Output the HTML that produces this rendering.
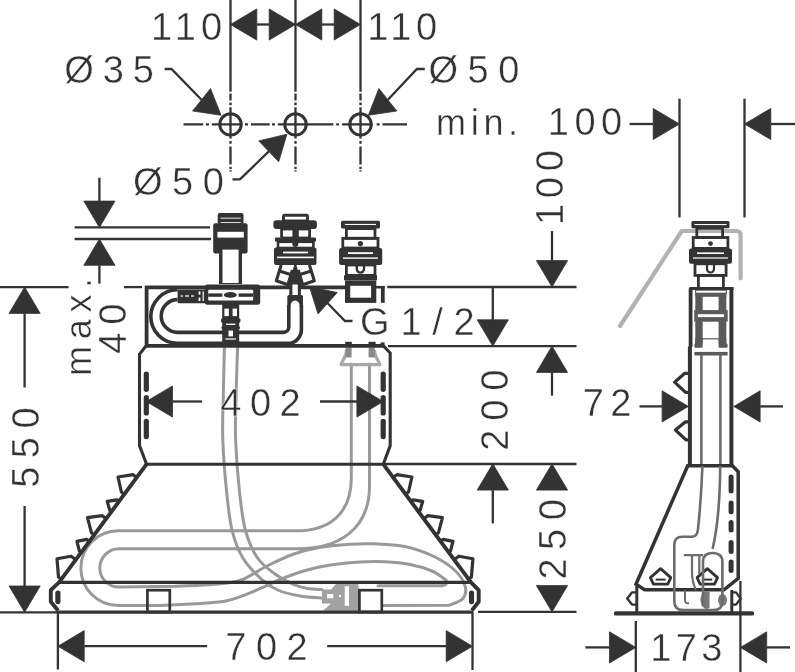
<!DOCTYPE html>
<html><head><meta charset="utf-8"><title>Drawing</title>
<style>
html,body{margin:0;padding:0;background:#fff;}
svg{display:block;will-change:transform;}
text{font-family:"Liberation Sans",sans-serif;fill:#333;stroke:#fff;stroke-width:0.4px;}
</style></head><body>
<svg width="795" height="672" viewBox="0 0 795 672">
<rect width="795" height="672" fill="#fff"/>
<g id="hoses" fill="none" stroke="#999999" stroke-width="3.0" stroke-linecap="round" stroke-linejoin="round">
<path d="M224.4,347.0 C224.2,355.8 223.5,384.5 223.2,400.0 C222.9,415.5 222.2,424.4 222.8,440.0 C223.4,455.6 225.2,478.4 226.8,493.6 C228.4,508.8 229.5,520.3 232.2,531.0 C234.9,541.7 238.0,549.9 242.9,558.0 C247.8,566.1 255.8,574.1 261.6,579.4 C267.4,584.7 271.3,587.2 277.7,590.0 C284.1,592.8 292.6,594.7 300.0,596.0 C307.4,597.3 318.3,597.7 322.0,598.0"/>
<path d="M237.6,347.0 C237.3,355.8 236.3,384.5 236.0,400.0 C235.7,415.5 235.0,424.4 235.6,440.0 C236.2,455.6 238.0,478.4 239.7,493.6 C241.4,508.8 242.6,520.3 245.6,531.0 C248.6,541.7 252.7,550.8 257.6,558.0 C262.5,565.2 269.0,569.5 275.0,574.0 C281.0,578.5 288.3,582.3 293.8,584.7 C299.3,587.1 303.3,587.6 308.0,588.4 C312.7,589.2 319.7,589.4 322.0,589.6"/>
<path d="M351.3,364 L351.3,478 C351.3,515 328,530.8 296,530.8 L118.2,530.8 A37.35,37.35 0 0 0 118.2,605.5 L160,605.5 C166.7,605.2 188.9,604.3 200.0,603.5 C211.1,602.7 217.9,602.8 226.8,600.8 C235.7,598.8 244.7,595.0 253.6,591.4 C262.5,587.8 271.5,583.0 280.4,579.4 C289.3,575.8 298.3,572.5 307.2,570.0 C316.1,567.5 325.2,565.9 334.0,564.6 C342.8,563.3 351.5,562.5 360.0,562.0 C368.5,561.5 376.7,561.4 385.0,561.8 C393.3,562.2 402.2,563.0 410.0,564.5 C417.8,566.0 426.1,568.5 432.0,571.0 C437.9,573.5 443.2,578.2 445.5,579.6 C448.5,583 446,585.8 440,585.8 L378,585.8"/>
<path d="M369.5,364 L369.5,486 C369.5,530 338,548.7 298,548.7 L119,548.7 A19.2,19.2 0 0 0 119,587.1 L175,586.3 C179.2,586.1 191.7,585.8 200.0,585.3 C208.3,584.8 217.8,584.2 225.0,583.2 C232.2,582.2 236.0,582.4 243.0,579.5 C250.0,576.6 258.5,570.2 267.0,566.0 C275.5,561.8 284.9,557.1 293.8,554.0 C302.7,550.9 311.2,548.8 320.6,547.2 C330.0,545.6 341.3,544.8 350.0,544.2 C358.7,543.6 363.8,543.4 373.0,543.8 C382.2,544.2 394.7,544.3 405.0,546.5 C415.3,548.7 426.5,552.8 435.0,557.0 C443.5,561.2 450.9,566.5 456.0,571.5 C461.1,576.5 464.2,582.4 465.3,587.0 C466.4,591.6 465.2,596.0 462.5,599.0 C459.8,602.0 451.2,604.2 449.0,605.3 L383,605.5"/>
</g>
<path d="M346.6,350 C346.6,357 342.4,360 341,364.6 L379.8,364.6 C378.6,360 374.4,357 374.4,350" fill="none" stroke="#a8a8a8" stroke-width="3.2" stroke-linejoin="round"/>
<rect x="345.6" y="347.5" width="6.0" height="9.9" rx="0.0" fill="#8a8a8a"/>
<rect x="368.6" y="347.5" width="6.2" height="9.9" rx="0.0" fill="#8a8a8a"/>
<polygon points="322,589.5 331,589.5 336,584 358.5,584 358.5,610.8 323,610.8 331,603.5 322,603.5" fill="#a2a2a2"/>
<rect x="327.0" y="594.0" width="6.3" height="4.3" rx="0.0" fill="#fff"/>
<rect x="344.7" y="586.3" width="4.3" height="19.5" rx="0.0" fill="#fff"/>
<circle cx="340" cy="596" r="1.2" fill="#fff"/>
<path d="M146.6,345 L146.6,287.4 L345,287.4" fill="none" stroke="#333333" stroke-width="3.80" />
<path d="M387.2,287.0 L576.5,287.0" fill="none" stroke="#333333" stroke-width="2.30" />
<line x1="145.0" y1="345.9" x2="383.6" y2="345.9" stroke="#333333" stroke-width="3.80" />
<rect x="345.2" y="341.8" width="6.6" height="4.2" rx="0.0" fill="#333333"/>
<rect x="368.5" y="341.8" width="7.1" height="4.2" rx="0.0" fill="#333333"/>
<rect x="380.6" y="342.4" width="4.0" height="3.6" rx="0.0" fill="#333333"/>
<line x1="388.0" y1="346.1" x2="576.5" y2="346.1" stroke="#333333" stroke-width="2.30" />
<path d="M146,345.9 L139.5,354.3 L139.5,445.6 L146.6,464.2 L383.3,464.2 L390.2,445.6 L390.2,353 L383.4,345.9" fill="none" stroke="#333333" stroke-width="3.10" stroke-linejoin="miter"/>
<line x1="384.0" y1="464.0" x2="576.5" y2="464.0" stroke="#333333" stroke-width="2.30" />
<path d="M146.6,464.2 L59,582.4 L50.8,590.2 L50.8,601.7 L58,610.5 M383.3,464.2 L471,582.4 L478.7,590.2 L478.7,601.7 L471.8,610.5" fill="none" stroke="#333333" stroke-width="3.90" stroke-linejoin="round"/>
<line x1="58.0" y1="582.4" x2="472.0" y2="582.4" stroke="#333333" stroke-width="3.20" />
<line x1="57.0" y1="612.2" x2="473.0" y2="612.2" stroke="#333333" stroke-width="3.30" />
<line x1="0.0" y1="612.3" x2="58.0" y2="612.3" stroke="#333333" stroke-width="2.30" />
<line x1="478.0" y1="611.9" x2="576.5" y2="611.9" stroke="#333333" stroke-width="2.30" />
<rect x="147.4" y="590.2" width="22.4" height="21.8" rx="0.0" fill="none" stroke="#333333" stroke-width="2.70"/>
<rect x="359.4" y="590.2" width="22.4" height="21.8" rx="0.0" fill="none" stroke="#333333" stroke-width="2.70"/>
<line x1="57.9" y1="593.0" x2="57.9" y2="601.6" stroke="#333333" stroke-width="5.20" stroke-linecap="round"/>
<line x1="471.5" y1="593.0" x2="471.5" y2="601.6" stroke="#333333" stroke-width="5.20" stroke-linecap="round"/>
<line x1="146.3" y1="374.0" x2="146.3" y2="389.3" stroke="#333333" stroke-width="5.20" stroke-linecap="round"/>
<line x1="146.3" y1="397.7" x2="146.3" y2="412.9" stroke="#333333" stroke-width="5.20" stroke-linecap="round"/>
<line x1="146.3" y1="421.3" x2="146.3" y2="436.6" stroke="#333333" stroke-width="5.20" stroke-linecap="round"/>
<line x1="383.2" y1="374.0" x2="383.2" y2="389.3" stroke="#333333" stroke-width="5.20" stroke-linecap="round"/>
<line x1="383.2" y1="397.7" x2="383.2" y2="412.9" stroke="#333333" stroke-width="5.20" stroke-linecap="round"/>
<line x1="383.2" y1="421.3" x2="383.2" y2="436.6" stroke="#333333" stroke-width="5.20" stroke-linecap="round"/>
<path d="M136.8,477.5 L133.0,474.7 L118.0,477.0 L121.4,492.0 L124.4,494.2" fill="none" stroke="#333333" stroke-width="3.20" stroke-linejoin="round"/>
<path d="M393.1,477.5 L396.9,474.7 L411.9,477.0 L408.5,492.0 L405.5,494.2" fill="none" stroke="#333333" stroke-width="3.20" stroke-linejoin="round"/>
<path d="M119.0,501.4 L116.9,499.8 L107.2,501.3 L109.8,510.4 L111.5,511.6" fill="none" stroke="#333333" stroke-width="3.20" stroke-linejoin="round"/>
<path d="M410.9,501.4 L413.0,499.8 L422.7,501.3 L420.1,510.4 L418.4,511.6" fill="none" stroke="#333333" stroke-width="3.20" stroke-linejoin="round"/>
<path d="M106.2,518.7 L102.0,515.6 L87.5,517.6 L91.4,532.7 L94.3,534.8" fill="none" stroke="#333333" stroke-width="3.20" stroke-linejoin="round"/>
<path d="M423.7,518.7 L427.9,515.6 L442.4,517.6 L438.5,532.7 L435.6,534.8" fill="none" stroke="#333333" stroke-width="3.20" stroke-linejoin="round"/>
<path d="M89.4,541.4 L86.6,539.4 L76.9,541.4 L79.4,551.0 L81.3,552.4" fill="none" stroke="#333333" stroke-width="3.20" stroke-linejoin="round"/>
<path d="M440.5,541.4 L443.3,539.4 L453.0,541.4 L450.5,551.0 L448.6,552.4" fill="none" stroke="#333333" stroke-width="3.20" stroke-linejoin="round"/>
<path d="M75.8,559.7 L71.1,556.2 L57.0,558.8 L58.5,577.0 L61.4,579.2" fill="none" stroke="#333333" stroke-width="3.20" stroke-linejoin="round"/>
<path d="M454.1,559.7 L458.8,556.2 L472.9,558.8 L471.4,577.0 L468.5,579.2" fill="none" stroke="#333333" stroke-width="3.20" stroke-linejoin="round"/>
<path d="M177.6,289.8 A26.8,26.8 0 0 0 177.6,343.4 L288,343.4 A13.4,14 0 0 0 301.4,329 L301.4,305" fill="none" stroke="#333333" stroke-width="3.60" />
<path d="M177.6,299.6 A16.4,16.4 0 0 0 177.6,332.4 L283.5,332.4 A5.3,5.3 0 0 0 288.8,327.1 L288.8,305" fill="none" stroke="#333333" stroke-width="3.60" />
<rect x="217.7" y="213.1" width="25.8" height="10.9" rx="1.8" fill="#333333"/>
<rect x="220.5" y="217.7" width="20.3" height="0.9" rx="0.0" fill="#fff"/>
<rect x="220.5" y="222.2" width="20.3" height="0.9" rx="0.0" fill="#fff"/>
<rect x="213.2" y="223.2" width="34.4" height="30.3" rx="2.0" fill="#333333"/>
<rect x="217.4" y="231.8" width="26.4" height="5.8" rx="0.0" fill="#fff"/>
<rect x="219.0" y="250.0" width="23.0" height="34.0" rx="0.0" fill="#333333"/>
<rect x="222.5" y="249.6" width="16.1" height="33.4" rx="0.0" fill="#fff"/>
<rect x="204.8" y="284.4" width="55.4" height="20.4" rx="2.5" fill="#333333"/>
<rect x="208.2" y="289.8" width="45.0" height="10.6" rx="1.0" fill="#fff"/>
<rect x="208.2" y="293.4" width="14.2" height="3.4" rx="0.0" fill="#333333"/>
<rect x="238.6" y="293.4" width="14.6" height="3.4" rx="0.0" fill="#333333"/>
<ellipse cx="230.3" cy="294.9" rx="6.6" ry="2.8" fill="#333333"/>
<rect x="177.6" y="289.4" width="27.9" height="13.8" rx="1.0" fill="#333333"/>
<rect x="180.5" y="295.4" width="2.5" height="1.2" rx="0.0" fill="#fff"/>
<rect x="185.0" y="295.4" width="4.0" height="1.2" rx="0.0" fill="#fff"/>
<rect x="191.0" y="295.4" width="3.0" height="1.2" rx="0.0" fill="#fff"/>
<rect x="198.6" y="291.4" width="1.8" height="3.2" rx="0.0" fill="#fff"/>
<rect x="198.6" y="297.6" width="1.8" height="3.4" rx="0.0" fill="#fff"/>
<rect x="202.6" y="291.4" width="1.2" height="9.6" rx="0.0" fill="#fff"/>
<rect x="222.2" y="304.0" width="17.0" height="39.0" rx="0.0" fill="#333333"/>
<rect x="221.0" y="318.6" width="19.4" height="3.8" rx="1.0" fill="#333333"/>
<rect x="221.4" y="326.5" width="18.6" height="2.5" rx="1.0" fill="#333333"/>
<rect x="224.4" y="308.6" width="4.4" height="7.5" rx="0.0" fill="#fff"/>
<rect x="232.6" y="308.6" width="4.4" height="7.5" rx="0.0" fill="#fff"/>
<rect x="226.0" y="323.6" width="9.4" height="1.4" rx="0.0" fill="#fff"/>
<rect x="228.5" y="330.6" width="4.5" height="5.8" rx="0.0" fill="#fff"/>
<rect x="225.4" y="338.4" width="10.6" height="1.2" rx="0.0" fill="#fff"/>
<rect x="283.5" y="215.2" width="24.0" height="5.8" rx="1.0" fill="none" stroke="#333333" stroke-width="2.90"/>
<rect x="273.4" y="220.2" width="43.5" height="8.8" rx="3.0" fill="#333333"/>
<rect x="281.6" y="229.0" width="28.0" height="9.0" rx="0.0" fill="none" stroke="#333333" stroke-width="2.80"/>
<rect x="292.4" y="229.0" width="6.4" height="9.0" rx="0.0" fill="#333333"/>
<rect x="275.0" y="237.6" width="41.0" height="4.2" rx="1.0" fill="#333333"/>
<rect x="278.0" y="241.8" width="35.4" height="6.2" rx="0.0" fill="none" stroke="#333333" stroke-width="2.60"/>
<circle cx="295.3" cy="244" r="3" fill="#333333"/>
<rect x="274.0" y="247.6" width="42.5" height="17.4" rx="2.0" fill="#333333"/>
<rect x="283.0" y="251.6" width="25.0" height="1.8" rx="0.0" fill="#fff"/>
<rect x="277.0" y="256.6" width="37.0" height="1.6" rx="0.0" fill="#fff"/>
<path d="M281.2,265 L276.3,280.7 L287.9,284.7 L292.4,270 M279.4,270.9 L290.6,274.5" fill="none" stroke="#333333" stroke-width="3.10" stroke-linejoin="round"/>
<path d="M309.4,265 L314.3,280.7 L302.7,284.7 L298.2,270 M311.2,270.9 L300,274.5" fill="none" stroke="#333333" stroke-width="3.10" stroke-linejoin="round"/>
<polygon points="295.3,261 288.6,285.5 302,285.5" fill="#333333"/>
<rect x="289.3" y="283.0" width="11.6" height="13.0" rx="0.0" fill="#333333"/>
<rect x="292.4" y="284.5" width="5.4" height="10.7" rx="0.0" fill="#fff"/>
<path d="M287.3,296.5 Q287.3,295 289,295 L301.3,295 Q303,295 303,296.5 L303,307 L299.9,307 Q299.5,300.5 295.1,300.5 Q290.7,300.5 290.3,307 L287.3,307 Z" fill="#333333"/>
<rect x="341.0" y="220.7" width="39.0" height="7.9" rx="1.5" fill="#333333"/>
<rect x="345.0" y="223.9" width="31.0" height="1.1" rx="0.0" fill="#fff"/>
<rect x="346.4" y="228.6" width="28.6" height="9.7" rx="0.0" fill="none" stroke="#333333" stroke-width="2.80"/>
<rect x="342.8" y="238.3" width="35.2" height="9.7" rx="0.0" fill="none" stroke="#333333" stroke-width="2.80"/>
<circle cx="360.4" cy="243.6" r="2.6" fill="#333333"/>
<rect x="339.1" y="248.0" width="43.1" height="17.0" rx="2.0" fill="#333333"/>
<rect x="348.0" y="252.2" width="25.0" height="1.8" rx="0.0" fill="#fff"/>
<rect x="343.0" y="257.4" width="35.0" height="1.4" rx="0.0" fill="#fff"/>
<rect x="346.4" y="265.0" width="28.6" height="10.4" rx="0.0" fill="none" stroke="#333333" stroke-width="2.80"/>
<path d="M356.8,262 L356.8,269 A3.6,3.6 0 0 0 364,269 L364,262" fill="none" stroke="#333333" stroke-width="2.40" />
<rect x="344.0" y="275.0" width="33.0" height="5.4" rx="1.0" fill="#333333"/>
<rect x="347.6" y="283.2" width="26.1" height="17.1" rx="0.0" fill="none" stroke="#333333" stroke-width="5.20"/>
<line x1="375.0" y1="287.2" x2="384.7" y2="287.2" stroke="#333333" stroke-width="2.60" />
<line x1="382.8" y1="286.0" x2="382.8" y2="302.8" stroke="#333333" stroke-width="3.80" />
<path d="M230.5,0.0 L230.5,91.8 M230.5,93.6 L230.5,100.6 M230.5,102.6 L230.5,105.2 M230.5,107.2 L230.5,138.6 M230.5,141.0 L230.5,143.8 M230.5,146.4 L230.5,164.6 M230.5,166.8 L230.5,169.0 M230.5,170.2 L230.5,171.4" fill="none" stroke="#333333" stroke-width="2.30" />
<circle cx="230.5" cy="124.4" r="10.7" fill="none" stroke="#333333" stroke-width="3.0"/>
<path d="M295.5,0.0 L295.5,91.8 M295.5,93.6 L295.5,100.6 M295.5,102.6 L295.5,105.2 M295.5,107.2 L295.5,138.6 M295.5,141.0 L295.5,143.8 M295.5,146.4 L295.5,164.6 M295.5,166.8 L295.5,169.0 M295.5,170.2 L295.5,171.4" fill="none" stroke="#333333" stroke-width="2.30" />
<circle cx="295.5" cy="124.4" r="10.7" fill="none" stroke="#333333" stroke-width="3.0"/>
<path d="M360.5,0.0 L360.5,91.8 M360.5,93.6 L360.5,100.6 M360.5,102.6 L360.5,105.2 M360.5,107.2 L360.5,138.6 M360.5,141.0 L360.5,143.8 M360.5,146.4 L360.5,164.6 M360.5,166.8 L360.5,169.0 M360.5,170.2 L360.5,171.4" fill="none" stroke="#333333" stroke-width="2.30" />
<circle cx="360.5" cy="124.4" r="10.7" fill="none" stroke="#333333" stroke-width="3.0"/>
<path d="M183.5,124.4 L203.2,124.4 M206.0,124.4 L209.0,124.4 M211.8,124.4 L242.2,124.4 M245.0,124.4 L248.0,124.4 M250.9,124.4 L269.7,124.4 M272.0,124.4 L274.9,124.4 M277.8,124.4 L333.3,124.4 M336.2,124.4 L339.0,124.4 M342.0,124.4 L372.4,124.4 M376.7,124.4 L379.6,124.4 M382.5,124.4 L407.0,124.4" fill="none" stroke="#333333" stroke-width="2.30" />
<polygon points="230.5,24.5 256.8,8.9 256.8,40.1" fill="#333333" stroke="#333333" stroke-width="0.8" stroke-linejoin="round"/>
<polygon points="295.5,24.5 269.2,40.1 269.2,8.9" fill="#333333" stroke="#333333" stroke-width="0.8" stroke-linejoin="round"/>
<line x1="256.8" y1="24.5" x2="269.2" y2="24.5" stroke="#333333" stroke-width="2.30" />
<polygon points="295.5,24.5 321.8,8.9 321.8,40.1" fill="#333333" stroke="#333333" stroke-width="0.8" stroke-linejoin="round"/>
<polygon points="360.5,24.5 334.2,40.1 334.2,8.9" fill="#333333" stroke="#333333" stroke-width="0.8" stroke-linejoin="round"/>
<line x1="321.8" y1="24.5" x2="334.2" y2="24.5" stroke="#333333" stroke-width="2.30" />
<polygon points="221.1,115.3 192.6,111.0 210.5,88.5" fill="#333333" stroke="#333333" stroke-width="0.8" stroke-linejoin="round"/>
<path d="M164.6,69 L171.5,69 L201.5,99.7" fill="none" stroke="#333333" stroke-width="2.30" />
<polygon points="368.3,115.3 378.9,88.5 396.8,111.0" fill="#333333" stroke="#333333" stroke-width="0.8" stroke-linejoin="round"/>
<path d="M424.8,69 L416.9,69 L387.9,99.7" fill="none" stroke="#333333" stroke-width="2.30" />
<polygon points="286.9,134.2 278.7,161.8 258.8,140.9" fill="#333333" stroke="#333333" stroke-width="0.8" stroke-linejoin="round"/>
<path d="M232.5,179.3 L240,179.3 L268.8,151.4" fill="none" stroke="#333333" stroke-width="2.30" />
<polygon points="309.5,286.8 337.3,292.5 318.0,313.9" fill="#333333" stroke="#333333" stroke-width="0.8" stroke-linejoin="round"/>
<path d="M327.7,303.2 L345,321 L352.5,321" fill="none" stroke="#333333" stroke-width="2.30" />
<line x1="74.6" y1="227.4" x2="210.0" y2="227.4" stroke="#333333" stroke-width="2.30" />
<line x1="74.6" y1="239.0" x2="211.0" y2="239.0" stroke="#333333" stroke-width="2.30" />
<polygon points="99.4,227.4 83.8,201.1 115.0,201.1" fill="#333333" stroke="#333333" stroke-width="0.8" stroke-linejoin="round"/>
<line x1="99.4" y1="177.7" x2="99.4" y2="201.1" stroke="#333333" stroke-width="2.30" />
<polygon points="99.4,239.0 115.0,265.3 83.8,265.3" fill="#333333" stroke="#333333" stroke-width="0.8" stroke-linejoin="round"/>
<line x1="99.4" y1="265.3" x2="99.4" y2="283.6" stroke="#333333" stroke-width="2.30" />
<line x1="0.0" y1="287.1" x2="68.6" y2="287.1" stroke="#333333" stroke-width="2.30" />
<line x1="124.0" y1="287.1" x2="142.0" y2="287.1" stroke="#333333" stroke-width="2.30" />
<polygon points="24.6,287.1 40.2,313.4 9.0,313.4" fill="#333333" stroke="#333333" stroke-width="0.8" stroke-linejoin="round"/>
<line x1="24.6" y1="313.4" x2="24.6" y2="387.5" stroke="#333333" stroke-width="2.30" />
<polygon points="24.6,612.3 9.0,586.0 40.2,586.0" fill="#333333" stroke="#333333" stroke-width="0.8" stroke-linejoin="round"/>
<line x1="24.6" y1="506.0" x2="24.6" y2="586.0" stroke="#333333" stroke-width="2.30" />
<polygon points="146.2,401.5 172.5,385.9 172.5,417.1" fill="#333333" stroke="#333333" stroke-width="0.8" stroke-linejoin="round"/>
<line x1="172.5" y1="401.5" x2="202.0" y2="401.5" stroke="#333333" stroke-width="2.30" />
<polygon points="383.2,401.5 356.9,417.1 356.9,385.9" fill="#333333" stroke="#333333" stroke-width="0.8" stroke-linejoin="round"/>
<line x1="320.0" y1="401.5" x2="356.9" y2="401.5" stroke="#333333" stroke-width="2.30" />
<line x1="57.9" y1="612.0" x2="57.9" y2="669.5" stroke="#333333" stroke-width="2.30" />
<line x1="472.5" y1="612.0" x2="472.5" y2="670.0" stroke="#333333" stroke-width="2.30" />
<polygon points="57.9,646.2 84.2,630.6 84.2,661.8" fill="#333333" stroke="#333333" stroke-width="0.8" stroke-linejoin="round"/>
<line x1="84.2" y1="646.2" x2="207.2" y2="646.2" stroke="#333333" stroke-width="2.30" />
<polygon points="472.5,646.2 446.2,661.8 446.2,630.6" fill="#333333" stroke="#333333" stroke-width="0.8" stroke-linejoin="round"/>
<line x1="327.2" y1="646.2" x2="446.2" y2="646.2" stroke="#333333" stroke-width="2.30" />
<polygon points="552.0,286.9 536.4,260.6 567.6,260.6" fill="#333333" stroke="#333333" stroke-width="0.8" stroke-linejoin="round"/>
<line x1="552.0" y1="231.0" x2="552.0" y2="260.6" stroke="#333333" stroke-width="2.30" />
<polygon points="492.8,346.1 477.2,319.8 508.4,319.8" fill="#333333" stroke="#333333" stroke-width="0.8" stroke-linejoin="round"/>
<line x1="492.8" y1="287.0" x2="492.8" y2="319.8" stroke="#333333" stroke-width="2.30" />
<polygon points="552.0,346.1 567.6,372.4 536.4,372.4" fill="#333333" stroke="#333333" stroke-width="0.8" stroke-linejoin="round"/>
<line x1="552.0" y1="372.4" x2="552.0" y2="395.7" stroke="#333333" stroke-width="2.30" />
<polygon points="492.8,463.8 508.4,490.1 477.2,490.1" fill="#333333" stroke="#333333" stroke-width="0.8" stroke-linejoin="round"/>
<line x1="492.8" y1="490.1" x2="492.8" y2="523.4" stroke="#333333" stroke-width="2.30" />
<polygon points="552.0,463.8 567.6,490.1 536.4,490.1" fill="#333333" stroke="#333333" stroke-width="0.8" stroke-linejoin="round"/>
<polygon points="552.0,611.9 536.4,585.6 567.6,585.6" fill="#333333" stroke="#333333" stroke-width="0.8" stroke-linejoin="round"/>
<line x1="679.5" y1="98.7" x2="679.5" y2="217.5" stroke="#333333" stroke-width="2.30" />
<line x1="744.5" y1="98.7" x2="744.5" y2="217.5" stroke="#333333" stroke-width="2.30" />
<polygon points="679.5,124.0 653.2,139.6 653.2,108.4" fill="#333333" stroke="#333333" stroke-width="0.8" stroke-linejoin="round"/>
<line x1="629.6" y1="124.0" x2="653.2" y2="124.0" stroke="#333333" stroke-width="2.30" />
<polygon points="744.5,124.0 770.8,108.4 770.8,139.6" fill="#333333" stroke="#333333" stroke-width="0.8" stroke-linejoin="round"/>
<line x1="770.8" y1="124.0" x2="795.0" y2="124.0" stroke="#333333" stroke-width="2.30" />
<path d="M620,326 L681.8,231 L736.5,231 Q740.6,231 740.6,235.5 L740.6,278.5" fill="none" stroke="#b2b2b2" stroke-width="4.20" stroke-linecap="round" stroke-linejoin="round"/>
<rect x="691.4" y="221.0" width="38.1" height="7.2" rx="1.5" fill="#333333"/>
<rect x="694.5" y="224.0" width="32.0" height="1.1" rx="0.0" fill="#fff"/>
<rect x="696.8" y="228.2" width="25.8" height="9.3" rx="0.0" fill="none" stroke="#333333" stroke-width="2.80"/>
<rect x="693.2" y="237.5" width="34.7" height="10.9" rx="0.0" fill="none" stroke="#333333" stroke-width="2.80"/>
<circle cx="710.5" cy="243.6" r="2.4" fill="#333333"/>
<rect x="689.0" y="248.4" width="43.0" height="15.4" rx="2.0" fill="#333333"/>
<rect x="697.0" y="252.4" width="27.0" height="1.6" rx="0.0" fill="#fff"/>
<rect x="693.0" y="257.4" width="35.0" height="1.2" rx="0.0" fill="#fff"/>
<rect x="695.0" y="263.8" width="31.1" height="11.6" rx="0.0" fill="none" stroke="#333333" stroke-width="2.80"/>
<path d="M707,262 L707,269 A3.5,3.5 0 0 0 714,269 L714,262" fill="none" stroke="#333333" stroke-width="2.20" />
<rect x="698.4" y="275.4" width="25.0" height="13.0" rx="0.0" fill="none" stroke="#333333" stroke-width="2.80"/>
<rect x="695.3" y="293.1" width="7.4" height="54.5" rx="0.0" fill="#5a5a5c"/>
<rect x="718.6" y="293.1" width="7.7" height="54.5" rx="0.0" fill="#5a5a5c"/>
<rect x="695.3" y="293.1" width="31.0" height="3.7" rx="0.0" fill="#5a5a5c"/>
<rect x="695.6" y="290.2" width="30.8" height="3.0" rx="0.0" fill="none" stroke="#5a5a5c" stroke-width="1.10"/>
<rect x="694.2" y="310.1" width="33.5" height="11.6" rx="0.0" fill="#5a5a5c"/>
<rect x="697.8" y="314.2" width="26.2" height="2.9" rx="0.0" fill="#fff"/>
<rect x="702.6" y="338.2" width="16.1" height="1.2" rx="0.0" fill="#5a5a5c"/>
<polygon points="695.3,338 702.7,338 702.7,343 701,347.6 694.4,347.6 694.4,344.5 695.3,343" fill="#5a5a5c"/>
<polygon points="726.3,338 718.6,338 718.6,343 720.4,347.6 727.6,347.6 727.6,344.5 726.3,343" fill="#5a5a5c"/>
<rect x="694.4" y="351.9" width="33.2" height="3.6" rx="0.0" fill="#5a5a5c"/>
<path d="M689.4,288.4 L733.6,288.4" fill="none" stroke="#333333" stroke-width="3.00" />
<line x1="690.6" y1="288.4" x2="690.6" y2="347.0" stroke="#333333" stroke-width="3.80" />
<line x1="689.9" y1="346.6" x2="689.9" y2="465.5" stroke="#333333" stroke-width="4.00" />
<line x1="731.4" y1="288.4" x2="731.4" y2="465.5" stroke="#333333" stroke-width="4.00" />
<line x1="701.4" y1="355.0" x2="701.4" y2="465.0" stroke="#6c6c6e" stroke-width="2.60" />
<line x1="720.4" y1="355.0" x2="720.4" y2="465.0" stroke="#6c6c6e" stroke-width="2.60" />
<path d="M689,373.3 L684.8,373.3 L674.6,382.2 L685.6,392.4 L689,392.4" fill="none" stroke="#333333" stroke-width="3.20" stroke-linejoin="round"/>
<path d="M689,421.8 L685.6,421.8 L675.4,430 L686,439.8 L689,439.8" fill="none" stroke="#333333" stroke-width="3.20" stroke-linejoin="round"/>
<polygon points="688.4,406.4 662.1,422.0 662.1,390.8" fill="#333333" stroke="#333333" stroke-width="0.8" stroke-linejoin="round"/>
<line x1="639.5" y1="406.4" x2="662.1" y2="406.4" stroke="#333333" stroke-width="2.30" />
<polygon points="733.8,406.4 760.1,390.8 760.1,422.0" fill="#333333" stroke="#333333" stroke-width="0.8" stroke-linejoin="round"/>
<line x1="760.1" y1="406.4" x2="783.0" y2="406.4" stroke="#333333" stroke-width="2.30" />
<path d="M687.7,465.7 L732.4,465.7 L738.2,471.7 L738.2,578.3 L724,589.8 L644.6,589.8 L636,584.2 Z" fill="none" stroke="#333333" stroke-width="3.50" stroke-linejoin="miter"/>
<line x1="636.8" y1="584.0" x2="636.8" y2="612.0" stroke="#333333" stroke-width="3.00" />
<line x1="731.8" y1="590.0" x2="731.8" y2="612.0" stroke="#333333" stroke-width="3.00" />
<line x1="616.0" y1="613.4" x2="752.0" y2="613.4" stroke="#333333" stroke-width="4.40" stroke-linecap="round"/>
<line x1="731.1" y1="477.0" x2="731.1" y2="491.0" stroke="#333333" stroke-width="5.00" stroke-linecap="round"/>
<line x1="731.1" y1="502.9" x2="731.1" y2="511.7" stroke="#333333" stroke-width="5.00" stroke-linecap="round"/>
<line x1="731.1" y1="522.5" x2="731.1" y2="530.1" stroke="#333333" stroke-width="5.00" stroke-linecap="round"/>
<line x1="731.1" y1="542.5" x2="731.1" y2="551.5" stroke="#333333" stroke-width="5.00" stroke-linecap="round"/>
<line x1="731.1" y1="561.9" x2="731.1" y2="570.5" stroke="#333333" stroke-width="5.00" stroke-linecap="round"/>
<path d="M660.6,568.6 L650.4,577.6 L653.4,584.2 L667.8,584.2 L670.8,577.6 Z" fill="none" stroke="#333333" stroke-width="2.80" stroke-linejoin="round"/>
<path d="M655.6,579.6 L665.6,579.6" fill="none" stroke="#333333" stroke-width="2.00" />
<path d="M707.3,568.6 L697.1,577.6 L700.1,584.2 L714.5,584.2 L717.5,577.6 Z" fill="none" stroke="#333333" stroke-width="2.80" stroke-linejoin="round"/>
<path d="M702.3,579.6 L712.3,579.6" fill="none" stroke="#333333" stroke-width="2.00" />
<path d="M636,592.4 L632,592.4 L627.2,598.5 L632,604.6 L636,604.6" fill="none" stroke="#333333" stroke-width="2.40" stroke-linejoin="round"/>
<path d="M732.5,592.4 L736,592.4 L740.6,598.5 L736,604.6 L732.5,604.6" fill="none" stroke="#333333" stroke-width="2.40" stroke-linejoin="round"/>
<ellipse cx="706.5" cy="600" rx="6" ry="9" fill="#77777a"/>
<ellipse cx="722.5" cy="600" rx="4.5" ry="6" fill="#77777a"/>
<rect x="709.5" y="592.0" width="7.5" height="16.5" rx="3.0" fill="#fff"/>
<path d="M702.4,466 C701.5,490 699.5,515 698,529 Q697.4,536.7 692,536.7 L682,536.7 Q674.3,536.7 674.3,545 L674.3,601 Q674.3,610 683,610 L714,610 Q722.4,610 722.4,601 L722.4,562 Q722.4,553 712.5,553 Q703,553 703,562 L703,606" fill="none" stroke="#6c6c6e" stroke-width="2.60" />
<path d="M720.2,466 C720,500 717.5,528 712.6,549" fill="none" stroke="#6c6c6e" stroke-width="2.60" />
<path d="M683.8,555.2 L703,555.2 M692,555 L692,572 Q692,582 696,590 M699.3,555 L699.3,574" fill="none" stroke="#6c6c6e" stroke-width="2.20" />
<path d="M685,590 L685,600 Q685,604 689,603" fill="none" stroke="#6c6c6e" stroke-width="2.00" />
<line x1="635.8" y1="621.0" x2="635.8" y2="672.0" stroke="#333333" stroke-width="2.30" />
<line x1="740.4" y1="581.0" x2="740.4" y2="672.0" stroke="#333333" stroke-width="2.30" />
<polygon points="635.8,647.4 609.5,663.0 609.5,631.8" fill="#333333" stroke="#333333" stroke-width="0.8" stroke-linejoin="round"/>
<line x1="585.4" y1="647.4" x2="609.5" y2="647.4" stroke="#333333" stroke-width="2.30" />
<polygon points="740.4,647.4 766.7,631.8 766.7,663.0" fill="#333333" stroke="#333333" stroke-width="0.8" stroke-linejoin="round"/>
<line x1="766.7" y1="647.4" x2="790.0" y2="647.4" stroke="#333333" stroke-width="2.30" />
<text x="151.1" y="39.6" font-size="38.0" letter-spacing="5.23">110</text>
<text x="367.3" y="39.6" font-size="38.0" letter-spacing="4.68">110</text>
<text x="64.2" y="82.7" font-size="38.0" letter-spacing="8.94">Ø35</text>
<text x="428.4" y="82.7" font-size="38.0" letter-spacing="9.59">Ø50</text>
<text x="132.9" y="194.9" font-size="38.0" letter-spacing="9.54">Ø50</text>
<text x="436.1" y="134.9" font-size="36.0" letter-spacing="4.67">min.</text>
<text x="547.8" y="134.6" font-size="38.0" letter-spacing="5.52">100</text>
<text transform="translate(563.3,225.0) rotate(-90)" font-size="38.0" letter-spacing="5.72">100</text>
<text transform="translate(90.6,375.9) rotate(-90)" font-size="36.0" letter-spacing="6.67">max.</text>
<text transform="translate(125.6,353.8) rotate(-90)" font-size="38.0" letter-spacing="7.87">40</text>
<text transform="translate(38.6,487.8) rotate(-90)" font-size="38.0" letter-spacing="8.50">550</text>
<text x="220.2" y="415.9" font-size="38.0" letter-spacing="8.56">402</text>
<text x="360.1" y="335.0" font-size="38.0" letter-spacing="10.76">G1/2</text>
<text transform="translate(507.8,450.7) rotate(-90)" font-size="38.0" letter-spacing="8.84">200</text>
<text transform="translate(565.6,579.6) rotate(-90)" font-size="38.0" letter-spacing="8.49">250</text>
<text x="582.7" y="416.3" font-size="38.0" letter-spacing="6.39">72</text>
<text x="225.3" y="660.4" font-size="38.0" letter-spacing="9.53">702</text>
<text x="650.3" y="661.2" font-size="38.0" letter-spacing="4.32">173</text>
</svg>
</body></html>
